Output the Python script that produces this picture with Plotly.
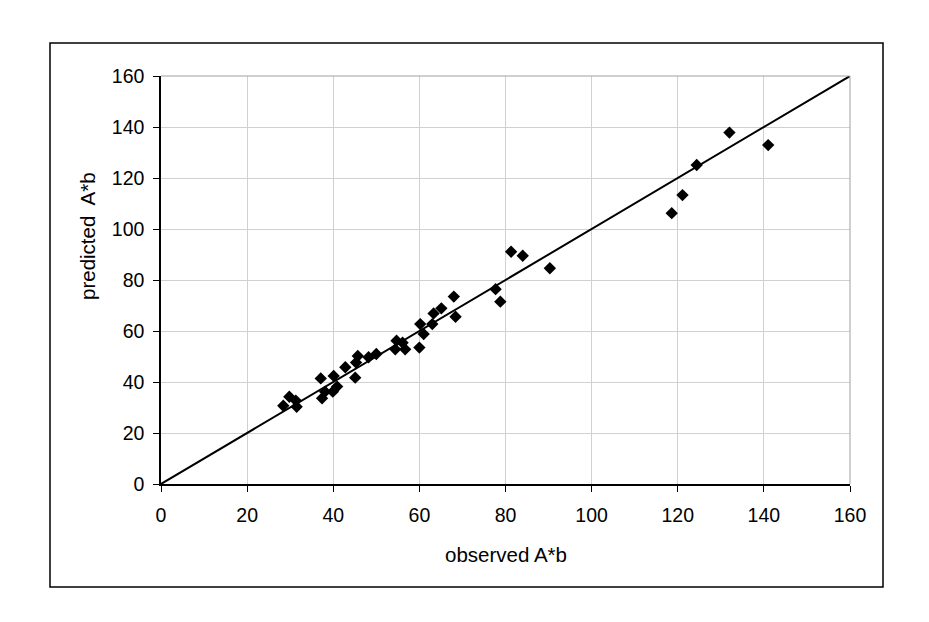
import plotly.graph_objects as go

observed = [28.4, 29.8, 31.3, 31.5, 37.1, 37.4, 38.1, 39.9, 40.1, 40.9, 42.8, 45.1, 45.3, 45.7,
            48.2, 50.0, 54.4, 54.7, 56.1, 56.7, 60.0, 60.2, 61.0, 63.0, 63.3, 65.1, 68.0, 68.4,
            77.7, 78.8, 81.3, 84.0, 90.3, 118.6, 121.1, 124.4, 132.0, 141.0]
predicted = [30.7, 34.2, 32.7, 30.3, 41.4, 33.6, 36.2, 36.2, 42.4, 38.2, 45.8, 41.7, 47.6, 50.2,
             49.7, 51.0, 52.8, 56.2, 55.4, 52.8, 53.5, 62.7, 58.8, 62.7, 66.9, 68.9, 73.5, 65.6,
             76.4, 71.5, 91.1, 89.5, 84.6, 106.2, 113.3, 125.1, 137.8, 132.9]
line_x = [0, 160]
line_y = [0, 160]
tick_vals = [0, 20, 40, 60, 80, 100, 120, 140, 160]
x_title = "observed A*b"
y_title = "predicted\u00a0 A*b"

FONT = "Liberation Sans, Arial, sans-serif"

fig = go.Figure()
fig.add_trace(go.Scatter(x=line_x, y=line_y, mode="lines",
                         line=dict(color="black", width=2), showlegend=False))
fig.add_trace(go.Scatter(x=observed, y=predicted, mode="markers",
                         marker=dict(symbol="diamond", size=9.5, color="black"),
                         showlegend=False))

W, H = 929, 622
L, R, T, B = 161, 850, 76, 484
pw, ph = R - L, B - T

def px_x(p):
    return (p - L) / pw

def px_y(p):
    return (B - p) / ph

axis_common = dict(
    range=[0, 160], tickvals=tick_vals, showgrid=True, gridcolor="#d0d0d0", gridwidth=1,
    zeroline=False, showline=True, linecolor="black", linewidth=1.5,
    ticks="outside", ticklen=6, tickcolor="black", tickwidth=1,
    tickfont=dict(family=FONT, size=19.5, color="black"),
)

fig.update_layout(
    width=W, height=H,
    margin=dict(l=L, r=W - R, t=T, b=H - B, autoexpand=False),
    paper_bgcolor="white", plot_bgcolor="white",
    font=dict(family=FONT, size=19.5, color="black"),
    xaxis=dict(**axis_common, ticklabelstandoff=7),
    yaxis=dict(**axis_common, ticklabelstandoff=5),
    annotations=[
        dict(text=x_title, xref="paper", yref="paper", x=0.5, y=px_y(554),
             xanchor="center", yanchor="middle", showarrow=False,
             font=dict(family=FONT, size=20.5, color="black")),
        dict(text=y_title, xref="paper", yref="paper", x=px_x(87), y=px_y(236),
             xanchor="center", yanchor="middle", showarrow=False, textangle=-90,
             font=dict(family=FONT, size=20.5, color="black")),
    ],
    shapes=[
        dict(type="line", xref="paper", yref="paper", x0=1, x1=1, y0=0, y1=1,
             line=dict(color="#a0a0a0", width=1)),
        dict(type="line", xref="paper", yref="paper", x0=0, x1=1, y0=1, y1=1,
             line=dict(color="#a0a0a0", width=1)),
        dict(type="rect", xref="paper", yref="paper",
             x0=px_x(50), x1=px_x(883), y0=px_y(587), y1=px_y(43),
             line=dict(color="black", width=1.5), fillcolor="rgba(0,0,0,0)"),
    ],
)

fig.write_html("out.html")
